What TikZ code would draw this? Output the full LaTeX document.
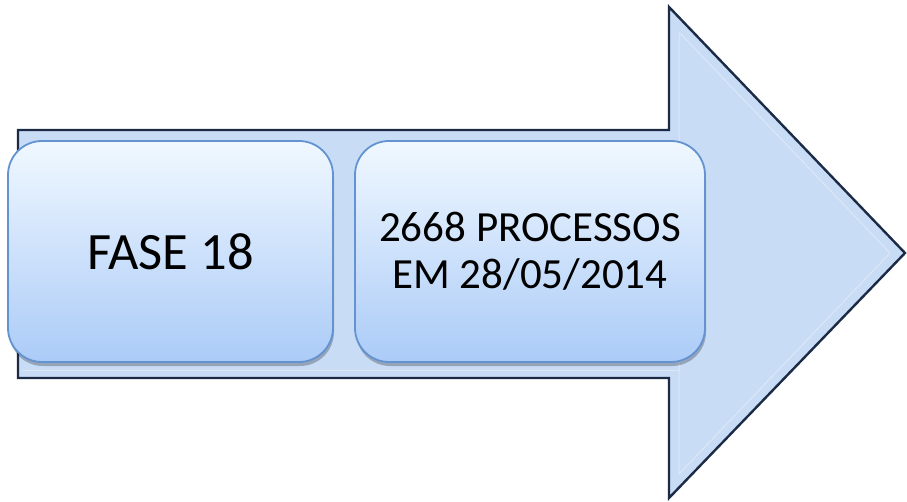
\documentclass[tikz,border=0pt]{standalone}
\usepackage{fontspec}
\setmainfont{Carlito}
\usetikzlibrary{shadows}
\definecolor{arrowfill}{HTML}{C9DCF5}
\definecolor{arrowline}{HTML}{1B2A45}
\definecolor{bevel}{HTML}{DCE7F5}
\definecolor{boxtop}{HTML}{F0F8FF}
\definecolor{boxbot}{HTML}{ABCBF7}
\definecolor{boxline}{HTML}{6393D0}
\tikzset{
  stagebox/.style={draw=boxline, line width=1.8pt, rounded corners=34pt,
    top color=boxtop, bottom color=boxbot,
    drop shadow={shadow xshift=1pt, shadow yshift=-4pt, opacity=0.25, fill=black},
    text=black, align=center, inner sep=0pt},
}
\begin{document}
\begin{tikzpicture}[x=1pt,y=-1pt]
\useasboundingbox (0,0) rectangle (907,502);
% big arrow
\draw[fill=arrowfill, draw=arrowline, line width=2.4pt, line join=miter]
  (18,130) -- (669,130) -- (669,7) -- (905,253) -- (669,498) -- (669,378) -- (18,378) -- cycle;
% bevel highlights
\draw[bevel, line width=1pt] (679,32) -- (890,253) -- (679,474) -- cycle;
\draw[bevel, line width=1pt] (22,370) -- (679,370);
% stage boxes
\node[stagebox, minimum width=325pt, minimum height=221pt, font=\fontsize{52.5}{60}\selectfont]
  (fase) at (170.5,251.5) {FASE 18};
\node[stagebox, minimum width=350pt, minimum height=221pt, font=\fontsize{43}{47}\selectfont]
  (proc) at (530,251.5) {2668 PROCESSOS\\EM 28/05/2014};
\end{tikzpicture}
\end{document}
